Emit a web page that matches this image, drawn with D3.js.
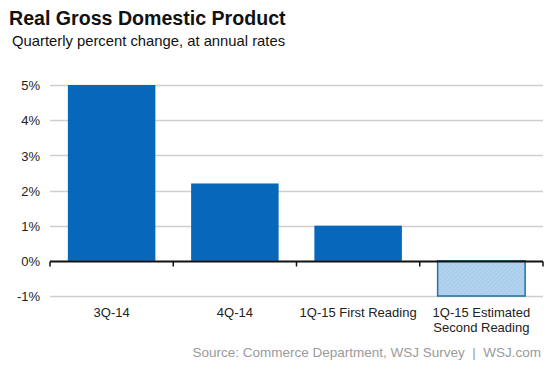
<!DOCTYPE html>
<html>
<head>
<meta charset="utf-8">
<script src="https://cdn.jsdelivr.net/npm/d3@7"></script>
<style>
  body { margin: 0; background: #fff; }
  text { font-family: "Liberation Sans", Arial, sans-serif; }
</style>
</head>
<body>
<div id="chart-area"></div>
<script>
// SVG Size
var width = 553,
    height = 369;

// chart data
var categories = ["3Q-14", "4Q-14", "1Q-15 First Reading", "1Q-15 Estimated|Second Reading"];
var values = [5.0, 2.2, 1.0, -1.0];
var estimated = [false, false, false, true];
var yTicks = [-1, 0, 1, 2, 3, 4, 5];

var svg = d3.select("#chart-area")
    .append("svg")
    .attr("width", width)
    .attr("height", height);

// hatch for the estimate bar
var defs = svg.append("defs");
var pat = defs.append("pattern")
    .attr("id", "hatch")
    .attr("patternUnits", "userSpaceOnUse")
    .attr("width", 3)
    .attr("height", 3)
    .attr("patternTransform", "rotate(45)");
pat.append("rect").attr("width", 3).attr("height", 3).attr("fill", "#a9cdec");
pat.append("line").attr("x1", 0).attr("y1", 0).attr("x2", 0).attr("y2", 3)
    .attr("stroke", "#c9e0f4").attr("stroke-width", 1);

var x = d3.scaleBand()
    .domain(categories)
    .range([50, 543])
    .paddingInner(0.29)
    .paddingOuter(0.145);

var y = d3.scaleLinear()
    .domain([-1, 5])
    .range([296, 85]);

// grid lines
svg.append("g")
    .selectAll("line")
    .data(yTicks.filter(function (d) { return d !== 0; }))
    .enter()
    .append("line")
    .attr("x1", 50)
    .attr("x2", 543)
    .attr("y1", function (d) { return Math.round(y(d)) + 0.5; })
    .attr("y2", function (d) { return Math.round(y(d)) + 0.5; })
    .attr("stroke", "#cfcfcf")
    .attr("stroke-width", 1.5);

// y axis labels
var yAxis = d3.axisLeft(y)
    .tickValues(yTicks)
    .tickSize(0)
    .tickPadding(0)
    .tickFormat(function (d) { return d + "%"; });

var yG = svg.append("g")
    .attr("transform", "translate(40,0)")
    .call(yAxis);
yG.select(".domain").remove();
yG.selectAll("text")
    .attr("font-size", 13)
    .attr("fill", "#222")
    .attr("dy", "0.36em");

// bars
svg.selectAll("rect.bar")
    .data(values)
    .enter()
    .append("rect")
    .attr("class", "bar")
    .attr("x", function (d, i) { return x(categories[i]); })
    .attr("width", x.bandwidth())
    .attr("y", function (d) { return y(Math.max(0, d)); })
    .attr("height", function (d) { return Math.abs(y(d) - y(0)); })
    .attr("fill", function (d, i) { return estimated[i] ? "url(#hatch)" : "#0667bb"; })
    .attr("stroke", function (d, i) { return estimated[i] ? "#22739d" : "none"; })
    .attr("stroke-width", 1.5);

// zero line with small ticks between categories
var zeroY = Math.round(y(0)) + 0.5;
svg.append("line")
    .attr("x1", 50)
    .attr("x2", 543)
    .attr("y1", zeroY)
    .attr("y2", zeroY)
    .attr("stroke", "#111")
    .attr("stroke-width", 2);

var edges = categories.map(function (c) { return x(c) - x.step() * x.paddingOuter(); });
edges.push(543);
svg.selectAll("line.sep")
    .data(edges)
    .enter()
    .append("line")
    .attr("class", "sep")
    .attr("x1", function (d) { return d; })
    .attr("x2", function (d) { return d; })
    .attr("y1", zeroY)
    .attr("y2", zeroY + 5)
    .attr("stroke", "#111")
    .attr("stroke-width", 1.5);

// category labels
var labels = svg.selectAll("text.cat")
    .data(categories)
    .enter()
    .append("text")
    .attr("class", "cat")
    .attr("text-anchor", "middle")
    .attr("font-size", 13)
    .attr("fill", "#222")
    .attr("x", function (d) { return x(d) + x.bandwidth() / 2; })
    .attr("y", 317);

labels.each(function (d) {
    var parts = d.split("|");
    var t = d3.select(this);
    parts.forEach(function (p, i) {
        t.append("tspan")
            .attr("x", x(d) + x.bandwidth() / 2)
            .attr("dy", i === 0 ? 0 : 15)
            .text(p);
    });
});

// titles
svg.append("text")
    .attr("x", 9)
    .attr("y", 25)
    .attr("font-size", 19.6)
    .attr("font-weight", "bold")
    .attr("fill", "#111")
    .text("Real Gross Domestic Product");

svg.append("text")
    .attr("x", 12)
    .attr("y", 46)
    .attr("font-size", 14.8)
    .attr("fill", "#111")
    .text("Quarterly percent change, at annual rates");

// source
svg.append("text")
    .attr("x", 541)
    .attr("y", 357)
    .attr("text-anchor", "end")
    .attr("font-size", 13.5)
    .attr("fill", "#9a9a9a")
    .style("white-space", "pre")
    .text("Source: Commerce Department, WSJ Survey  |  WSJ.com");
</script>
</body>
</html>
